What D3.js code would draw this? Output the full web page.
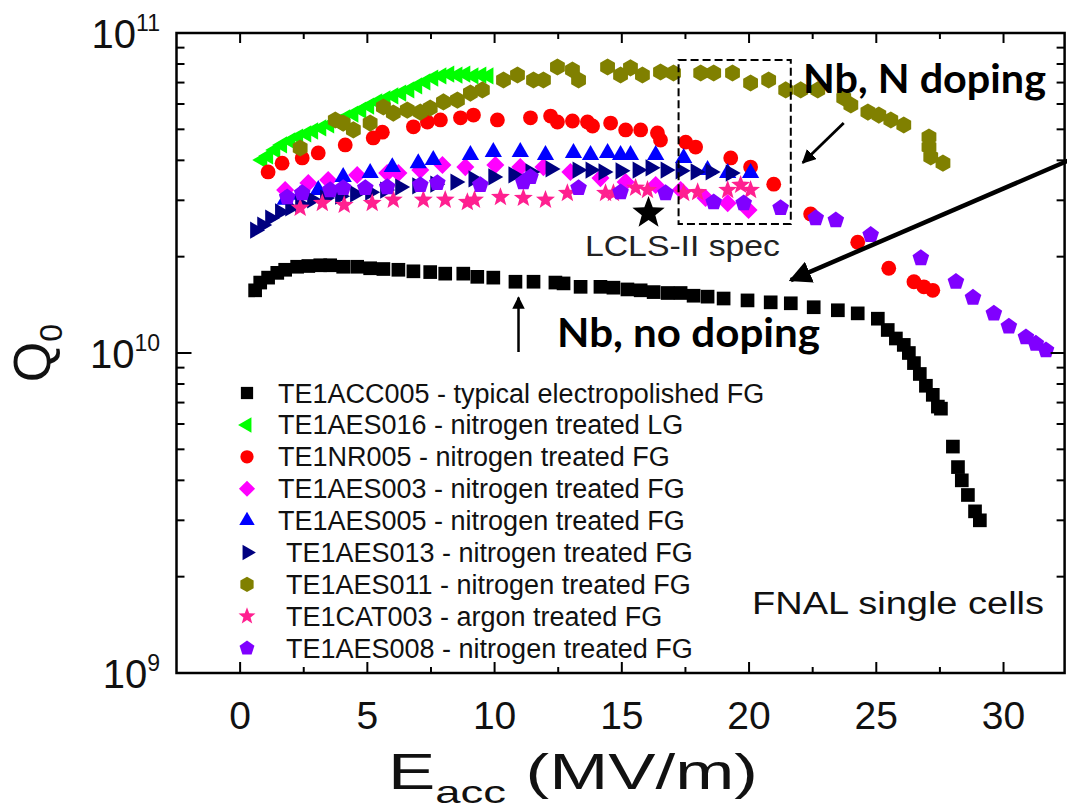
<!DOCTYPE html>
<html><head><meta charset="utf-8">
<script src="https://cdn.jsdelivr.net/npm/d3@7"></script>
<style>body{margin:0;background:#fff}</style>
</head><body>
<svg id="c" width="1067" height="806" xmlns="http://www.w3.org/2000/svg"></svg>
<script>
// ---------- DATA (E in MV/m, Q0 in units of 1e10) ----------
const seriesNames = [
  "TE1ACC005 - typical electropolished FG",
  "TE1AES016 - nitrogen treated LG",
  "TE1NR005 - nitrogen treated FG",
  "TE1AES003 - nitrogen treated FG",
  "TE1AES005 - nitrogen treated FG",
  "TE1AES013 - nitrogen treated FG",
  "TE1AES011 - nitrogen treated FG",
  "TE1CAT003 - argon treated FG",
  "TE1AES008 - nitrogen treated FG"
];
const seriesColors = ["#000000","#00ff00","#ff0000","#ff00ff","#0000ff","#000080","#808000","#ff2090","#8000ff"];
const seriesSymbols = ["square","triLeft","circle","diamond","triUp","triRight","hexagon","star","pentagon"];

const E_TE1ACC005 = [0.59,0.79,1.10,1.46,1.77,2.24,2.68,3.15,3.54,4.05,4.60,5.11,5.63,6.22,6.81,7.47,8.06,8.77,9.32,9.95,10.82,11.53,12.39,12.71,13.38,14.16,14.67,15.22,15.74,16.25,16.80,17.31,17.82,18.37,19.00,19.94,20.85,21.64,22.54,23.49,24.27,25.06,25.45,25.77,26.08,26.28,26.48,26.71,26.95,27.22,27.42,27.54,28.01,28.21,28.36,28.60,28.88,29.07];
const Q_TE1ACC005 = [1.57,1.66,1.72,1.78,1.82,1.86,1.87,1.88,1.88,1.86,1.86,1.84,1.83,1.82,1.80,1.79,1.77,1.77,1.73,1.72,1.67,1.67,1.66,1.65,1.61,1.61,1.60,1.58,1.57,1.55,1.54,1.54,1.51,1.50,1.48,1.46,1.44,1.43,1.39,1.36,1.33,1.28,1.18,1.11,1.06,1.00,0.93,0.86,0.79,0.74,0.68,0.67,0.51,0.44,0.40,0.36,0.32,0.30];

const E_TE1AES016 = [0.87,1.10,1.38,1.65,1.97,2.28,2.60,2.87,3.19,3.50,3.82,4.13,4.45,4.76,5.07,5.39,5.71,6.02,6.33,6.65,6.96,7.28,7.59,7.91,8.22,8.54,8.85,9.17,9.48,9.76];
const Q_TE1AES016 = [4.01,4.13,4.31,4.47,4.60,4.73,4.84,4.94,5.05,5.16,5.27,5.43,5.58,5.74,5.91,6.09,6.22,6.36,6.49,6.64,6.83,7.03,7.23,7.34,7.44,7.39,7.44,7.34,7.39,7.34];

const E_TE1NR005 = [1.10,1.65,2.44,3.07,4.13,5.23,5.59,6.81,7.36,7.87,8.66,9.17,10.11,11.41,12.20,12.47,13.06,13.65,13.85,14.56,15.15,15.74,16.40,16.52,17.51,17.90,19.28,20.06,20.97,22.42,24.27,25.49,26.48,26.87,27.22];
const Q_TE1NR005 = [3.68,3.92,4.07,4.22,4.47,4.70,4.90,5.09,5.27,5.35,5.43,5.54,5.35,5.43,5.50,5.27,5.31,5.27,5.12,5.23,4.98,4.98,4.87,4.63,4.56,4.40,4.07,3.81,3.37,2.72,2.22,1.84,1.67,1.61,1.57];

const E_TE1AES003 = [1.77,2.68,3.46,4.60,5.78,6.22,7.08,7.95,8.85,10.03,11.01,11.92,12.98,14.16,15.15,16.33,17.31,18.29,19.16,19.98];
const Q_TE1AES003 = [3.23,3.40,3.47,3.60,3.65,3.65,3.73,3.87,3.81,3.87,3.81,3.81,3.68,3.52,3.42,3.35,3.23,3.05,2.94,2.80];

const E_TE1AES005 = [1.77,2.36,3.07,4.05,5.11,5.98,7.00,7.59,9.05,9.95,11.01,12.00,13.10,13.77,14.44,14.95,15.34,16.33,17.43,18.37,19.16,20.06];
const Q_TE1AES005 = [3.01,3.12,3.23,3.55,3.65,3.81,3.92,4.01,4.16,4.25,4.25,4.16,4.22,4.16,4.22,4.16,4.16,4.16,4.07,3.73,3.65,3.65];

const E_TE1AES013 = [0.59,0.87,1.18,1.57,1.97,2.36,2.83,3.34,3.93,4.52,5.11,5.70,6.29,6.96,7.67,8.46,9.17,9.95,10.74,11.41,12.20,13.26,13.77,14.28,14.95,15.62,16.13,16.72,17.31,17.90,18.49,19.28];
const Q_TE1AES013 = [2.42,2.51,2.64,2.76,2.84,2.92,3.01,3.05,3.09,3.14,3.18,3.23,3.30,3.33,3.37,3.42,3.50,3.55,3.60,3.68,3.76,3.73,3.73,3.68,3.71,3.73,3.79,3.73,3.71,3.68,3.68,3.65];

const E_TE1AES011 = [2.36,3.74,4.05,4.45,5.11,5.63,6.02,6.57,7.08,7.47,7.99,8.54,9.05,9.52,10.35,10.90,11.53,11.92,12.47,13.06,13.30,14.44,14.95,15.34,15.81,16.52,17.03,18.10,18.61,19.35,20.06,20.77,21.44,22.03,22.70,23.72,24.00,24.67,25.10,25.57,26.08,27.07,27.07,27.14,27.62];
const Q_TE1AES011 = [4.37,5.35,5.23,4.98,5.23,5.87,5.62,5.74,5.66,5.83,6.09,6.17,6.49,6.64,7.13,7.39,7.13,7.13,7.83,7.66,7.13,7.83,7.39,7.78,7.39,7.55,7.50,7.50,7.50,7.50,6.98,7.13,6.64,6.64,6.64,6.27,5.96,5.66,5.54,5.35,5.16,4.73,4.40,4.10,3.92];

const E_TE1CAT003 = [2.36,3.23,4.09,5.19,6.02,7.20,8.06,8.93,9.21,10.23,11.13,12.00,12.86,14.36,14.67,15.54,16.01,17.43,17.98,19.16,19.67,20.06];
const Q_TE1CAT003 = [2.84,2.94,2.90,2.94,3.01,3.01,3.01,2.96,3.01,3.07,3.05,3.01,3.16,3.16,3.16,3.28,3.23,3.16,3.18,3.23,3.35,3.23];

const E_TE1AES008 = [1.85,2.44,3.54,4.05,4.92,5.78,7.08,7.75,9.44,11.13,11.41,13.30,14.95,16.72,18.61,19.79,21.24,22.62,23.41,24.78,26.75,28.13,28.80,29.62,30.21,30.88,31.27,31.67];
const Q_TE1AES008 = [3.07,3.16,3.23,3.28,3.28,3.30,3.35,3.40,3.35,3.42,3.55,3.28,3.18,3.16,2.96,2.94,2.84,2.64,2.60,2.34,1.98,1.67,1.49,1.33,1.21,1.12,1.07,1.02];

const xTicksMajor = [0,5,10,15,20,25,30];
const xTickLabels = ["0","5","10","15","20","25","30"];
const xTicksMinor = [2.5,7.5,12.5,17.5,22.5,27.5];
const yTicksMajor = [1e9,1e10,1e11];
const yTickExponents = ["9","10","11"];
const yTicksMinor = [2e9,3e9,4e9,5e9,6e9,7e9,8e9,9e9,2e10,3e10,4e10,5e10,6e10,7e10,8e10,9e10];

// annotations (data units: E, Q0 in 1e10)
const lclsSpec = {E:16.05, Q:2.74};
const dashedBox = {E0:17.23, E1:21.64, Q0:2.53, Q1:8.23};
const arrowNdoping = {E0:23.72, Q0:5.23, E1:22.11, Q1:3.93};
const arrowNoDoping = {E0:32.6, Q0:4.01, E1:21.64, Q1:1.69};
const arrowUp = {E0:10.94, Q0:1.007, E1:10.94, Q1:1.49};

const seriesData = [
  [E_TE1ACC005,Q_TE1ACC005],[E_TE1AES016,Q_TE1AES016],[E_TE1NR005,Q_TE1NR005],
  [E_TE1AES003,Q_TE1AES003],[E_TE1AES005,Q_TE1AES005],[E_TE1AES013,Q_TE1AES013],
  [E_TE1AES011,Q_TE1AES011],[E_TE1CAT003,Q_TE1CAT003],[E_TE1AES008,Q_TE1AES008]
];

// ---------- SCALES ----------
const svg = d3.select("#c");
const L = 176.5, R = 1064.6, T = 33, B = 673;
const x = d3.scaleLinear().domain([-2.5, 32.4]).range([L, R]);
const y = d3.scaleLog().domain([1e9, 1e11]).range([B, T]);
const yq = q => y(q * 1e10);

const FONT = "'Liberation Sans', Arial, sans-serif";

// ---------- SYMBOLS ----------
function polyPath(n, rot, r) {
  const p = d3.path();
  for (let i = 0; i < n; i++) {
    const a = rot + i * 2 * Math.PI / n;
    const px = r * Math.cos(a), py = r * Math.sin(a);
    i ? p.lineTo(px, py) : p.moveTo(px, py);
  }
  p.closePath();
  return p.toString();
}
function starPath(r) {
  const p = d3.path(), ri = r * 0.42;
  for (let i = 0; i < 10; i++) {
    const a = -Math.PI / 2 + i * Math.PI / 5;
    const rr = i % 2 ? ri : r;
    i ? p.lineTo(rr * Math.cos(a), rr * Math.sin(a)) : p.moveTo(rr * Math.cos(a), rr * Math.sin(a));
  }
  p.closePath();
  return p.toString();
}
function symbolPath(kind, s) {
  switch (kind) {
    case "square": return polyPath(4, Math.PI / 4, s * 0.72 * Math.SQRT2);
    case "circle": return d3.symbol(d3.symbolCircle, Math.PI * (s * 0.78) ** 2)();
    case "triLeft": return polyPath(3, Math.PI, s * 1.05);
    case "triRight": return polyPath(3, 0, s * 1.05);
    case "triUp": return polyPath(3, -Math.PI / 2, s * 1.05);
    case "diamond": return polyPath(4, 0, s * 0.95);
    case "hexagon": return polyPath(6, -Math.PI / 2, s * 0.9);
    case "pentagon": return polyPath(5, -Math.PI / 2, s * 0.92);
    case "star": return starPath(s * 1.05);
  }
}
const MS = 9.5;

// ---------- FRAME & TICKS ----------
const g = svg.append("g");
svg.append("defs").append("clipPath").attr("id", "clip")
  .append("rect").attr("x", L).attr("y", T).attr("width", R - L).attr("height", B - T);

// series
const plot = g.append("g").attr("clip-path", "url(#clip)");
seriesData.forEach((sd, i) => {
  const pts = sd[0].map((e, j) => [e, sd[1][j]]);
  plot.append("g").selectAll("path").data(pts).join("path")
    .attr("d", symbolPath(seriesSymbols[i], MS))
    .attr("transform", d => `translate(${x(d[0])},${yq(d[1])})`)
    .attr("fill", seriesColors[i]);
});

// frame
g.append("rect").attr("x", L).attr("y", T).attr("width", R - L).attr("height", B - T)
  .attr("fill", "none").attr("stroke", "#000").attr("stroke-width", 2.5);

const tk = g.append("g").attr("stroke", "#000").attr("stroke-width", 2);
xTicksMajor.forEach(v => {
  tk.append("line").attr("x1", x(v)).attr("x2", x(v)).attr("y1", B).attr("y2", B - 11);
  tk.append("line").attr("x1", x(v)).attr("x2", x(v)).attr("y1", T).attr("y2", T + 10);
});
xTicksMinor.forEach(v => {
  tk.append("line").attr("x1", x(v)).attr("x2", x(v)).attr("y1", B).attr("y2", B - 6);
  tk.append("line").attr("x1", x(v)).attr("x2", x(v)).attr("y1", T).attr("y2", T + 6);
});
yTicksMajor.forEach(v => {
  tk.append("line").attr("x1", L).attr("x2", L + 15).attr("y1", y(v)).attr("y2", y(v));
  tk.append("line").attr("x1", R).attr("x2", R - 14).attr("y1", y(v)).attr("y2", y(v));
});
yTicksMinor.forEach(v => {
  tk.append("line").attr("x1", L).attr("x2", L + 8).attr("y1", y(v)).attr("y2", y(v));
  tk.append("line").attr("x1", R).attr("x2", R - 8).attr("y1", y(v)).attr("y2", y(v));
});

// tick labels
xTicksMajor.forEach((v, i) => {
  g.append("text").attr("x", x(v)).attr("y", 729).attr("text-anchor", "middle")
    .attr("font-family", FONT).attr("font-size", 39).attr("fill", "#111").text(xTickLabels[i]);
});
yTicksMajor.forEach((v, i) => {
  const t = g.append("text").attr("x", 160).attr("y", y(v) + 15).attr("text-anchor", "end")
    .attr("font-family", FONT).attr("fill", "#111");
  t.append("tspan").attr("font-size", 40).text("10");
  t.append("tspan").attr("font-size", 23).attr("dy", -17).text(yTickExponents[i]);
});

// axis titles
const xt = g.append("text").attr("x", 388).attr("y", 789)
  .attr("font-family", FONT).attr("fill", "#111").attr("font-size", 50)
  .attr("textLength", 370).attr("lengthAdjust", "spacingAndGlyphs");
xt.append("tspan").text("E");
xt.append("tspan").attr("font-size", 32).attr("dy", 14).text("acc");
xt.append("tspan").attr("dy", -14).text(" (MV/m)");

const yt = g.append("text").attr("transform", "translate(50,353) rotate(-90)")
  .attr("text-anchor", "middle").attr("font-family", FONT).attr("fill", "#111").attr("font-size", 52);
yt.append("tspan").text("Q");
yt.append("tspan").attr("font-size", 32).attr("dy", 12).text("0");

// legend
const legY0 = 393, legDy = 31.9;
seriesNames.forEach((n, i) => {
  const yy = legY0 + i * legDy;
  g.append("path").attr("d", symbolPath(seriesSymbols[i], 8.5))
    .attr("transform", `translate(247,${yy})`).attr("fill", seriesColors[i]);
  g.append("text").attr("x", i < 5 ? 278 : 286).attr("y", yy + 9.5)
    .attr("font-family", FONT).attr("font-size", 27).attr("fill", "#111").text(n);
});

// annotations
g.append("path").attr("d", starPath(17))
  .attr("transform", `translate(${x(lclsSpec.E)},${yq(lclsSpec.Q)})`).attr("fill", "#000");
g.append("text").attr("x", 585).attr("y", 256).attr("font-family", FONT).attr("font-size", 30)
  .attr("fill", "#222").attr("textLength", 195).attr("lengthAdjust", "spacingAndGlyphs").text("LCLS-II spec");

g.append("rect").attr("x", x(dashedBox.E0)).attr("y", yq(dashedBox.Q1))
  .attr("width", x(dashedBox.E1) - x(dashedBox.E0)).attr("height", yq(dashedBox.Q0) - yq(dashedBox.Q1))
  .attr("fill", "none").attr("stroke", "#000").attr("stroke-width", 2).attr("stroke-dasharray", "8,4");

const defs = svg.select("defs");
defs.append("marker").attr("id", "ah").attr("viewBox", "0 0 10 10").attr("refX", 9).attr("refY", 5)
  .attr("markerWidth", 5).attr("markerHeight", 5).attr("orient", "auto").attr("markerUnits", "strokeWidth")
  .append("path").attr("d", "M0,0 L10,5 L0,10 z").attr("fill", "#000");
defs.append("marker").attr("id", "ah2").attr("viewBox", "0 0 10 10").attr("refX", 9).attr("refY", 5)
  .attr("markerWidth", 5).attr("markerHeight", 5).attr("orient", "auto").attr("markerUnits", "strokeWidth")
  .append("path").attr("d", "M0,0 L10,5 L0,10 z").attr("fill", "#000");

function arrow(a, w, m) {
  g.append("line").attr("x1", x(a.E0)).attr("y1", yq(a.Q0)).attr("x2", x(a.E1)).attr("y2", yq(a.Q1))
    .attr("stroke", "#000").attr("stroke-width", w).attr("marker-end", `url(#${m})`);
}
arrow(arrowNdoping, 2.8, "ah");
arrow(arrowNoDoping, 4.5, "ah2");
arrow(arrowUp, 2.5, "ah");

const BOLD = "Lato, 'Open Sans', sans-serif";
g.append("text").attr("x", 803).attr("y", 93).attr("font-family", BOLD).attr("font-weight", "bold")
  .attr("font-size", 40).attr("textLength", 243).attr("lengthAdjust", "spacingAndGlyphs").attr("fill", "#000").text("Nb, N doping");
g.append("text").attr("x", 557).attr("y", 347).attr("font-family", BOLD).attr("font-weight", "bold")
  .attr("font-size", 40).attr("textLength", 263).attr("lengthAdjust", "spacingAndGlyphs").attr("fill", "#000").text("Nb, no doping");
g.append("text").attr("x", 752).attr("y", 614).attr("font-family", FONT)
  .attr("font-size", 31).attr("textLength", 292).attr("lengthAdjust", "spacingAndGlyphs").attr("fill", "#111").text("FNAL single cells");
</script>
</body></html>
